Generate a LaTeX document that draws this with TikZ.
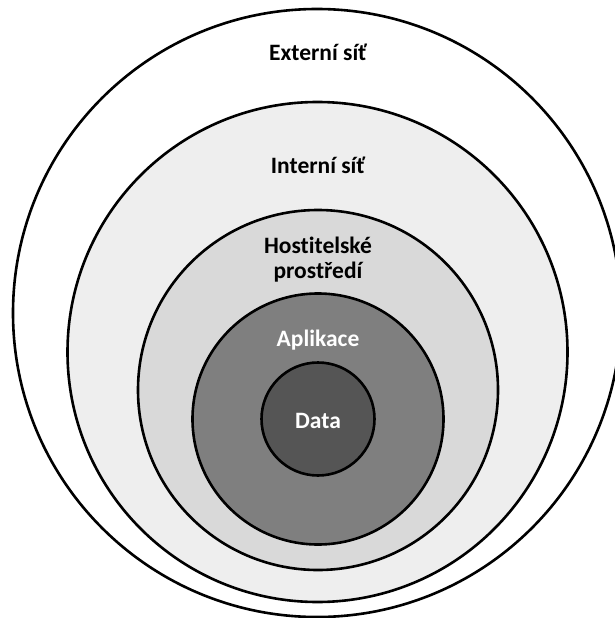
\documentclass[tikz,border=0pt]{standalone}
\usepackage{fontspec}
\setmainfont{Carlito}[Ligatures=NoCommon]
\definecolor{extfill}{HTML}{FFFFFF}
\definecolor{intfill}{HTML}{EEEEEE}
\definecolor{hostfill}{HTML}{D9D9D9}
\definecolor{appfill}{HTML}{7F7F7F}
\definecolor{datafill}{HTML}{555555}
\begin{document}
\begin{tikzpicture}[x=1pt,y=-1pt,
  ring/.style={circle, draw=black, line width=2.6pt, inner sep=0pt},
  lbl/.style={font=\fontsize{23.5}{26}\selectfont\bfseries, anchor=base, align=center, inner sep=0pt},
  lightlbl/.style={lbl, text=white}]
  \useasboundingbox (0,0) rectangle (614,618);
  % nested zones, outermost first
  \node[ring, fill=extfill,  minimum size=608pt] (ext)  at (317,313) {};
  \node[ring, fill=intfill,  minimum size=500pt] (int)  at (317.5,352) {};
  \node[ring, fill=hostfill, minimum size=360pt] (host) at (318,390) {};
  \node[ring, fill=appfill,  minimum size=251pt] (app)  at (318,419) {};
  \node[ring, fill=datafill, minimum size=113pt] (data) at (318,419) {};
  % zone labels
  \node[lbl] (extlbl) at (318,60) {Externí síť};
  \node[lbl] (intlbl) at (318,173) {Interní síť};
  \node[lbl] (hostlbl) at (318,253) {Hostitelské};
  \node[lbl] (hostlbl2) at (318,278) {prostředí};
  \node[lightlbl] (applbl) at (318,346) {Aplikace};
  \node[lightlbl] (datalbl) at (318,428) {Data};
\end{tikzpicture}
\end{document}
